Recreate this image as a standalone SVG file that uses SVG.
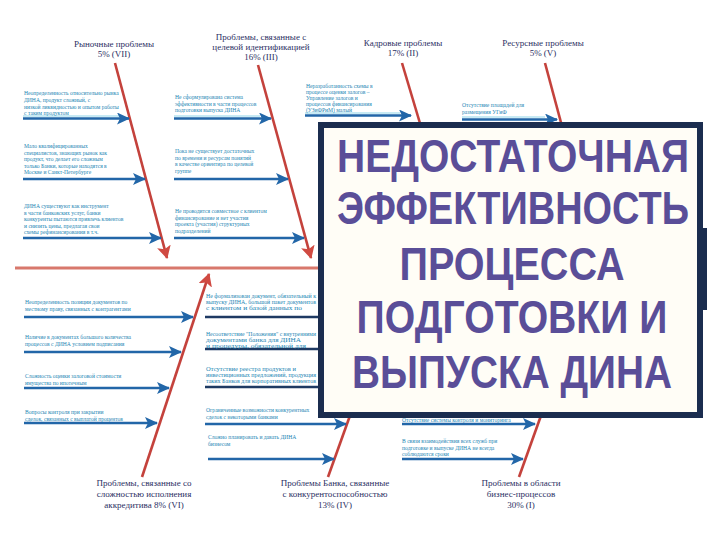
<svg xmlns="http://www.w3.org/2000/svg" width="720" height="540" viewBox="0 0 720 540">
<style>
.sm{font-family:"Liberation Serif","Times New Roman",serif;font-size:5.6px;fill:#1d86b4}
.lb{font-family:"Liberation Serif","Times New Roman",serif;font-size:9px;fill:#2c2f63;text-anchor:middle}
.big{font-family:"Liberation Sans",Arial,sans-serif;font-weight:bold;font-size:46px;fill:#5a4e98;text-anchor:middle}
.bone{stroke:#c4423c;stroke-width:2.6;fill:none}
.br{stroke:#2266a8;stroke-width:2.6;fill:none}
.hl{stroke:#8fd6ea;stroke-width:1.2;fill:none}
.brd{stroke:#1e3a63;stroke-width:2.4;fill:none}
</style>
<defs>
<marker id="ab" markerUnits="userSpaceOnUse" markerWidth="14" markerHeight="12" refX="12" refY="6" orient="auto">
<path d="M0,0 L13,6 L0,12 L3,6 Z" fill="#2266a8"/>
</marker>
<marker id="ar" markerUnits="userSpaceOnUse" markerWidth="14" markerHeight="14" refX="12" refY="7" orient="auto">
<path d="M0,0 L13,7 L0,14 L3,7 Z" fill="#d04a42"/>
</marker>
</defs>
<rect width="720" height="540" fill="#ffffff"/>

<g id="spine">
<line x1="15" y1="268" x2="600" y2="268" stroke="#d8786c" stroke-width="3"/>
</g>
<g id="head"><rect x="600" y="228" width="107" height="82" fill="#1b2d4f"/></g>

<g id="connectors">
<line class="bone" x1="115" y1="63" x2="167" y2="258" marker-end="url(#ar)"/>
<line class="bone" x1="258" y1="65" x2="311" y2="258" marker-end="url(#ar)"/>
<line class="bone" x1="402" y1="63" x2="422" y2="130"/>
<line class="bone" x1="545" y1="63" x2="563" y2="130"/>
<line class="bone" x1="142" y1="477" x2="209" y2="274" marker-end="url(#ar)"/>
<line class="bone" x1="328" y1="477" x2="352" y2="410"/>
<line class="bone" x1="519" y1="477" x2="543" y2="410"/>
<line class="hl" x1="23" y1="116" x2="120" y2="116"/>
<line class="br" x1="23" y1="118.5" x2="129" y2="118.5" marker-end="url(#ab)"/>
<line class="br" x1="23" y1="179" x2="145" y2="179" marker-end="url(#ab)"/>
<line class="br" x1="23" y1="238" x2="161" y2="238" marker-end="url(#ab)"/>
<line class="hl" x1="174" y1="116" x2="260" y2="116"/>
<line class="br" x1="174" y1="118.5" x2="271" y2="118.5" marker-end="url(#ab)"/>
<line class="br" x1="174" y1="179" x2="288" y2="179" marker-end="url(#ab)"/>
<line class="br" x1="174" y1="238" x2="304" y2="238" marker-end="url(#ab)"/>
<line class="hl" x1="305" y1="113" x2="400" y2="113"/>
<line class="br" x1="305" y1="115.5" x2="411" y2="115.5" marker-end="url(#ab)"/>
<line class="hl" x1="462" y1="117" x2="545" y2="117"/>
<line class="br" x1="462" y1="119.5" x2="557" y2="119.5" marker-end="url(#ab)"/>
<line class="br" x1="24" y1="317" x2="193" y2="317" marker-end="url(#ab)"/>
<line class="br" x1="24" y1="352" x2="181" y2="352" marker-end="url(#ab)"/>
<line class="br" x1="24" y1="388" x2="169" y2="388" marker-end="url(#ab)"/>
<line class="br" x1="24" y1="423" x2="157" y2="423" marker-end="url(#ab)"/>
<line class="brd" x1="205" y1="317" x2="360" y2="317"/>
<line class="brd" x1="205" y1="349" x2="360" y2="349"/>
<line class="brd" x1="205" y1="387" x2="360" y2="387"/>
<line class="br" x1="205" y1="424" x2="346" y2="424" marker-end="url(#ab)"/>
<line class="br" x1="208" y1="459" x2="334" y2="459" marker-end="url(#ab)"/>
<line class="br" x1="402" y1="424" x2="535" y2="424" marker-end="url(#ab)"/>
<line class="br" x1="402" y1="459" x2="523" y2="459" marker-end="url(#ab)"/>
</g>

<g id="bone-labels">
<text class="lb" x="114" y="47">Рыночные проблемы</text>
<text class="lb" x="114" y="57">5% (VII)</text>
<text class="lb" x="261" y="40">Проблемы, связанные с</text>
<text class="lb" x="261" y="50">целевой идентификацией</text>
<text class="lb" x="261" y="60">16% (III)</text>
<text class="lb" x="403" y="46">Кадровые проблемы</text>
<text class="lb" x="403" y="56">17% (II)</text>
<text class="lb" x="543" y="46">Ресурсные проблемы</text>
<text class="lb" x="543" y="56">5% (V)</text>
<text class="lb" x="144" y="486">Проблемы, связанные со</text>
<text class="lb" x="144" y="497">сложностью исполнения</text>
<text class="lb" x="144" y="508">аккредитива  8% (VI)</text>
<text class="lb" x="335" y="486">Проблемы Банка, связанные</text>
<text class="lb" x="335" y="497">с конкурентоспособностью</text>
<text class="lb" x="335" y="508">13% (IV)</text>
<text class="lb" x="521" y="486">Проблемы в области</text>
<text class="lb" x="521" y="497">бизнес-процессов</text>
<text class="lb" x="521" y="508">30% (I)</text>
</g>

<g id="causes-top">
<text class="sm" x="24" y="95">Неопределенность относительно рынка</text>
<text class="sm" x="24" y="102">ДИНА, продукт сложный, с</text>
<text class="sm" x="24" y="108.5">низкой ликвидностью и опытом работы</text>
<text class="sm" x="24" y="115">с таким продуктом</text>
<text class="sm" x="24" y="148">Мало квалифицированных</text>
<text class="sm" x="24" y="154.5">специалистов, знающих рынок как</text>
<text class="sm" x="24" y="161">продукт, что делает его сложным</text>
<text class="sm" x="24" y="167.5">только Банки, которые находятся в</text>
<text class="sm" x="24" y="174">Москве и Санкт-Петербурге</text>
<text class="sm" x="24" y="208">ДИНА существуют как инструмент</text>
<text class="sm" x="24" y="214.5">в части банковских услуг, банки</text>
<text class="sm" x="24" y="221">конкуренты пытаются привлечь клиентов</text>
<text class="sm" x="24" y="227.5">и снизить цены, предлагая свои</text>
<text class="sm" x="24" y="234">схемы рефинансирования в т.ч.</text>
<text class="sm" x="175" y="99">Не сформулирована система</text>
<text class="sm" x="175" y="105.5">эффективности в части процессов</text>
<text class="sm" x="175" y="112">подготовки выпуска ДИНА</text>
<text class="sm" x="175" y="153">Пока не существует достаточных</text>
<text class="sm" x="175" y="159.5">по времени и ресурсам понятий</text>
<text class="sm" x="175" y="166">в качестве ориентира по целевой</text>
<text class="sm" x="175" y="172.5">группе</text>
<text class="sm" x="175" y="213">Не проводится совместное с клиентом</text>
<text class="sm" x="175" y="219.5">финансирование и нет участия</text>
<text class="sm" x="175" y="226">проекта (участия) структурных</text>
<text class="sm" x="175" y="232.5">подразделений</text>
<text class="sm" x="306" y="88">Неразработанность схемы в</text>
<text class="sm" x="306" y="94">процессе оценки залогов –</text>
<text class="sm" x="306" y="100">Управление залогов и</text>
<text class="sm" x="306" y="106">процессов финансирования</text>
<text class="sm" x="306" y="112">(УЗиФРиМ) малый</text>
<text class="sm" x="462" y="107">Отсутствие площадей для</text>
<text class="sm" x="462" y="114">размещения УГиФ</text>
</g>

<g id="causes-bottom">
<text class="sm" x="25" y="304">Неопределенность позиции документов по</text>
<text class="sm" x="25" y="310.5">местному праву, связанных с контрагентами</text>
<text class="sm" x="25" y="339">Наличие в документах большого количества</text>
<text class="sm" x="25" y="345.5">процессов с ДИНА условием подписания</text>
<text class="sm" x="25" y="378">Сложность оценки залоговой стоимости</text>
<text class="sm" x="25" y="384.5">имущества по ипотечным</text>
<text class="sm" x="25" y="414">Вопросы контроля при закрытии</text>
<text class="sm" x="25" y="420.5">сделок, связанных с выплатой процентов</text>
<text class="sm" x="206" y="298" textLength="110" lengthAdjust="spacingAndGlyphs">Не формализован документ, обязательный к</text>
<text class="sm" x="206" y="304" textLength="110" lengthAdjust="spacingAndGlyphs">выпуску ДИНА, большой пакет документов</text>
<text class="sm" x="206" y="310" textLength="96" lengthAdjust="spacingAndGlyphs">с клиентом и базой данных по</text>
<text class="sm" x="206" y="336" textLength="110" lengthAdjust="spacingAndGlyphs">Несоответствие "Положения" с внутренними</text>
<text class="sm" x="206" y="342" textLength="95" lengthAdjust="spacingAndGlyphs">документами банка для ДИНА</text>
<text class="sm" x="206" y="348" textLength="100" lengthAdjust="spacingAndGlyphs">и процедуры, обязательной для</text>
<text class="sm" x="206" y="371" textLength="90" lengthAdjust="spacingAndGlyphs">Отсутствие реестра продуктов и</text>
<text class="sm" x="206" y="377" textLength="110" lengthAdjust="spacingAndGlyphs">инвестиционных предложений, продукция</text>
<text class="sm" x="206" y="383" textLength="110" lengthAdjust="spacingAndGlyphs">таких Банков для корпоративных клиентов</text>
<text class="sm" x="206" y="412">Ограниченные возможности конкурентных</text>
<text class="sm" x="206" y="419">сделок с некоторыми банками</text>
<text class="sm" x="208" y="439">Сложно планировать и давать ДИНА</text>
<text class="sm" x="208" y="446">бизнесом</text>
<text class="sm" x="402" y="421.5">Отсутствие системы контроля и мониторинга</text>
<text class="sm" x="402" y="443">В связи взаимодействия всех служб при</text>
<text class="sm" x="402" y="449.5">подготовке и выпуске ДИНА не всегда</text>
<text class="sm" x="402" y="456">соблюдаются сроки</text>
</g>

<g id="effect">
<rect x="321" y="125" width="379" height="290" fill="#fffdf6" stroke="#1b2d4f" stroke-width="6"/>
<text class="big" transform="translate(513,172) scale(0.84,1)" x="0" y="0" textLength="419" lengthAdjust="spacingAndGlyphs">НЕДОСТАТОЧНАЯ</text>
<text class="big" transform="translate(513,224) scale(0.84,1)" x="0" y="0" textLength="419" lengthAdjust="spacingAndGlyphs">ЭФФЕКТИВНОСТЬ</text>
<text class="big" transform="translate(512,280) scale(0.84,1)" x="0" y="0" textLength="268" lengthAdjust="spacingAndGlyphs">ПРОЦЕССА</text>
<text class="big" transform="translate(512,333) scale(0.84,1)" x="0" y="0" textLength="370" lengthAdjust="spacingAndGlyphs">ПОДГОТОВКИ И</text>
<text class="big" transform="translate(512,388) scale(0.84,1)" x="0" y="0" textLength="381" lengthAdjust="spacingAndGlyphs">ВЫПУСКА ДИНА</text>
</g>
</svg>
